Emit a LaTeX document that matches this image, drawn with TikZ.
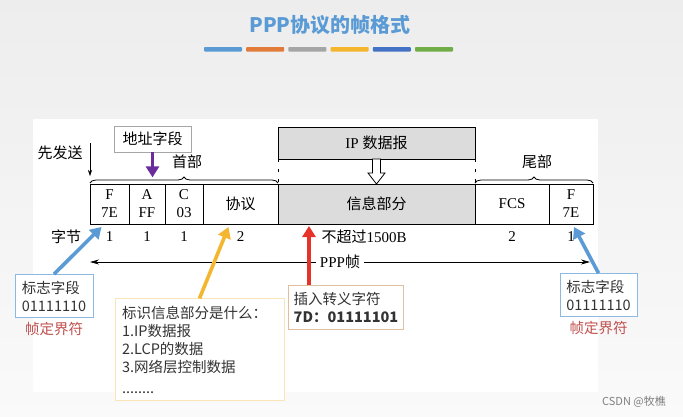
\documentclass[tikz,border=0pt]{standalone}
\usepackage{fontspec}
\setmainfont{Liberation Serif}
\newfontfamily\cjk{Noto Sans CJK SC}
\usetikzlibrary{arrows.meta,positioning,decorations.pathreplacing}
\definecolor{pppblue}{HTML}{5B9BD5}
\definecolor{ppporange}{HTML}{E07B39}
\definecolor{pppgray}{HTML}{A5A5A5}
\definecolor{pppyellow}{HTML}{F4B62F}
\definecolor{pppnavy}{HTML}{4472C4}
\definecolor{pppgreen}{HTML}{70AD47}
\definecolor{ppppurple}{HTML}{6A2C9C}
\definecolor{pppred}{HTML}{E5332A}
\definecolor{pppmark}{HTML}{C0504D}
\definecolor{pppfill}{HTML}{DCDCDC}
\definecolor{pppink}{HTML}{333333}
\tikzset{
  cell/.style={draw,line width=0.8pt,minimum height=40pt,inner sep=0pt,outer sep=0pt,align=center,font=\fontsize{15}{18}\selectfont},
  infocell/.style={cell,fill=pppfill},
  num/.style={inner sep=1pt,font=\fontsize{15}{18}\selectfont},
  lbl/.style={inner sep=1pt,font=\cjk\fontsize{15}{18}\selectfont},
  note/.style={draw,line width=0.7pt,fill=white,align=left,inner sep=5pt,text=pppink,font=\cjk\fontsize{14.5}{18}\selectfont},
  delimtext/.style={inner sep=1pt,text=pppmark,font=\cjk\fontsize{14.5}{18}\selectfont},
  brc/.style={decorate,decoration={brace,amplitude=6pt,raise=1pt},line width=0.8pt},
  fat/.style={line width=3.6pt,-{Triangle[length=11pt,width=13pt]}},
}

\begin{document}
\begin{tikzpicture}[x=1pt,y=-1pt]
  \useasboundingbox (0,0) rectangle (683,416);
  \shade[top color=gray!14,bottom color=gray!4] (0,0) rectangle (683,416);
  \fill[white] (33,119) rectangle (598,392);
  % title
  \node[font=\cjk\bfseries\fontsize{20}{22}\selectfont,text=pppblue] (title) at (330,25) {PPP协议的帧格式};
  \foreach \i/\c in {0/pppblue,1/ppporange,2/pppgray,3/pppyellow,4/pppnavy,5/pppgreen}{
    \fill[\c,rounded corners=0.8pt] (204+\i*42.2,47) rectangle ++(38,4.5);}
  % frame
  \node[cell,minimum width=39pt] (f1) at (109.5,204) {F\\7E};
  \node[cell,minimum width=36pt,right=0pt of f1] (fa) {A\\FF};
  \node[cell,minimum width=38pt,right=0pt of fa] (fc) {C\\03};
  \node[cell,minimum width=75pt,right=0pt of fc] (prot) {\cjk 协议};
  \node[infocell,minimum width=197pt,right=0pt of prot] (info) {\cjk 信息部分};
  \node[cell,minimum width=74pt,right=0pt of info] (fcs) {FCS};
  \node[cell,minimum width=44pt,right=0pt of fcs] (f2) {F\\7E};
  \foreach \c/\v in {f1/1,fa/1,fc/1,prot/2,fcs/2,f2/1}
    \node[num] (n-\c) at (\c.south |- 0,237) {\v};
  \node[num] (n-info) at (364,237) {{\cjk 不超过}1500B};
  \node[lbl] (bytes) at (66,237) {字节};
  % header / tail
  \draw[brc] (f1.north west) -- (prot.north east);
  \draw[brc] (fcs.north west) -- (f2.north east);
  \node[lbl] (head) at (187,162) {首部};
  \node[lbl] (tail) at (537,162) {尾部};
  \node[lbl] (first) at (60,153) {先发送};
  \draw[-{Stealth[length=6pt,width=4pt]},line width=0.6pt] ([yshift=41pt]f1.north west) -- ([yshift=8pt]f1.north west);
  \node[draw=gray!70,line width=0.7pt,fill=white,minimum width=77pt,minimum height=26pt,lbl] (addr) at (152.5,139) {地址字段};
  \draw[fat,ppppurple] (addr.south) -- ([yshift=-25pt]addr.south);
  % IP datagram
  \node[cell,fill=pppfill,minimum width=197pt,minimum height=32pt] (ip) at (info.north |- 0,143) {IP {\cjk 数据报}};
  \draw[line width=0.8pt,dash pattern=on 3pt off 7pt] (ip.south west) -- (info.north west);
  \draw[line width=0.8pt,dash pattern=on 3pt off 7pt] (ip.south east) -- (info.north east);
  \draw[line width=0.8pt,fill=white] ([xshift=-4pt]ip.south) -- ([shift={(-4,14)}]ip.south) -- ([shift={(-8.5,14)}]ip.south)
    -- (info.north) -- ([shift={(8.5,14)}]ip.south) -- ([shift={(4,14)}]ip.south) -- ([xshift=4pt]ip.south) -- cycle;
  % PPP frame length
  \node[num,fill=white,inner xsep=4pt] (ppp) at (340,262) {PPP{\cjk 帧}};
  \coordinate (pppL) at (90,262);
  \coordinate (pppR) at (590,262);
  \draw[-{Stealth[length=9pt,width=5pt]},line width=0.7pt] (ppp) -- (pppL);
  \draw[-{Stealth[length=9pt,width=5pt]},line width=0.7pt] (ppp) -- (pppR);
  % notes
  \node[note,draw=pppblue!70,minimum width=78pt,minimum height=43pt] (lbox) at (54,296) {标志字段\\01111110};
  \node[delimtext,below=3pt of lbox] (lmark) {帧定界符};
  \node[note,draw=pppblue!70,minimum width=77pt,minimum height=43pt] (rbox) at (598.5,295) {标志字段\\01111110};
  \node[delimtext,below=3pt of rbox] (rmark) {帧定界符};
  \node[note,draw=brown!50,minimum width=110pt,minimum height=44pt] (esc) at (346,307) {插入转义字符\\{\bfseries 7D：01111101}};
  \node[note,draw=pppyellow!35,text width=155pt,inner sep=7pt,minimum height=101pt] (what) at (199.5,349.5) {标识信息部分是什么：\\1.IP数据报\\2.LCP的数据\\3.网络层控制数据\\[3pt]........};
  \draw[fat,pppblue] (lbox.north) -- ([xshift=-8pt,yshift=-3pt]f1.south);
  \draw[fat,pppblue] (rbox.north) -- ([xshift=3pt,yshift=-3pt]f2.south);
  \draw[fat,pppyellow] (what.north) -- ([xshift=-12pt,yshift=-3pt]prot.south);
  \draw[fat,pppred] ([xshift=-37pt]esc.north) -- ([xshift=31pt,yshift=-2pt]info.south west);
  \node[font=\cjk\fontsize{11}{13}\selectfont,text=gray] (csdn) at (634,402) {CSDN @牧樵};
\end{tikzpicture}
\end{document}
